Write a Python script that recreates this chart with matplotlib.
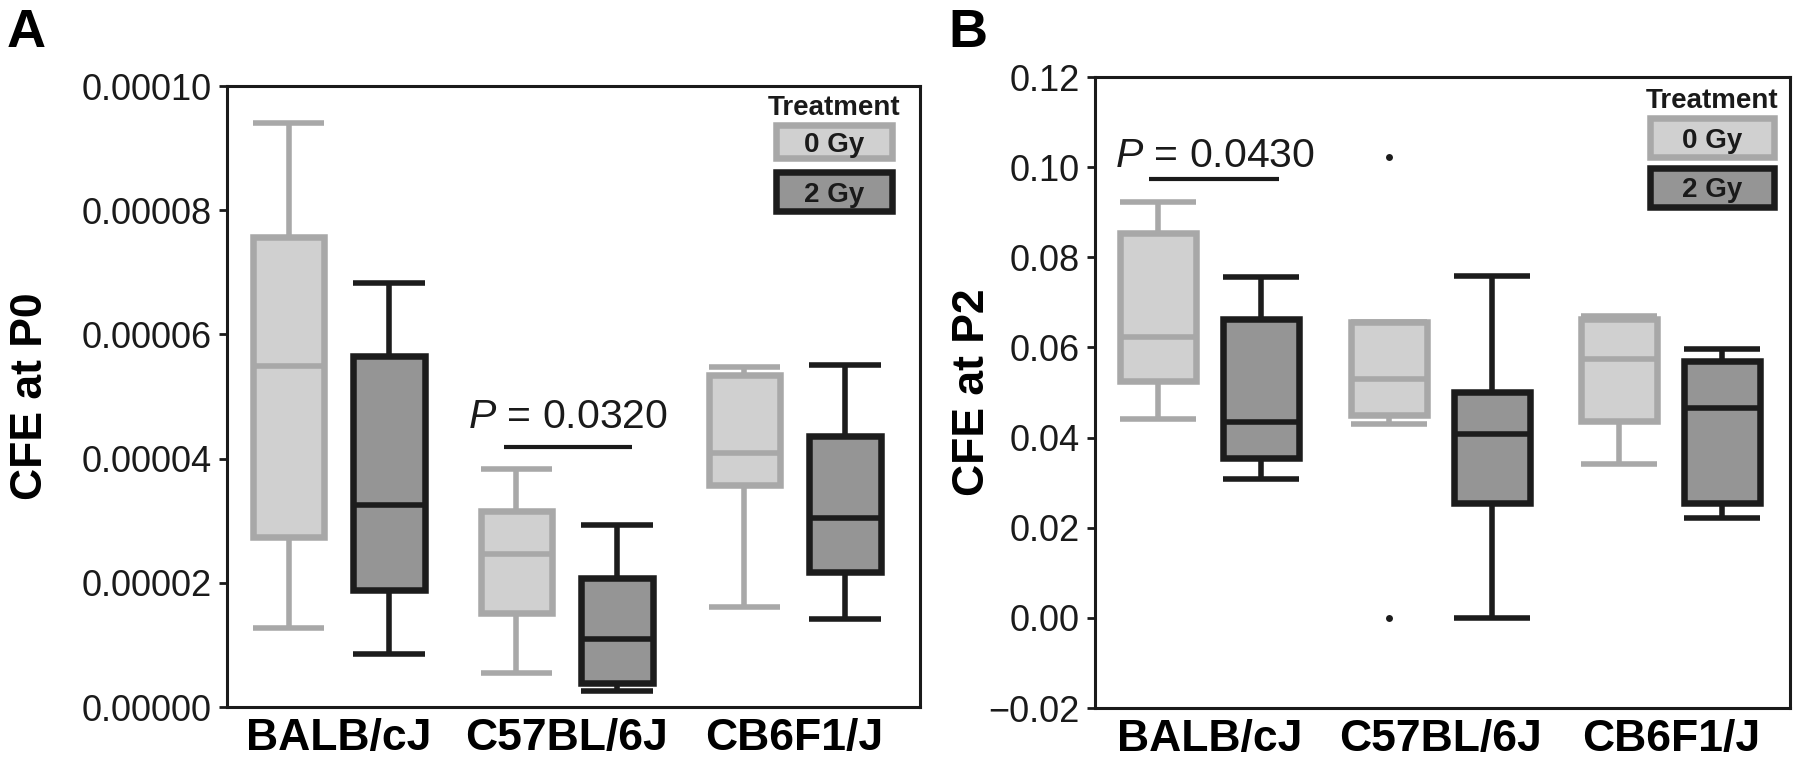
import numpy as np
import matplotlib.pyplot as plt
from matplotlib.patches import Rectangle
from matplotlib.ticker import FuncFormatter

plt.rcParams['font.family'] = ['Liberation Sans', 'DejaVu Sans']
plt.rcParams['mathtext.fontset'] = 'custom'
plt.rcParams['mathtext.it'] = 'Liberation Sans:italic'
plt.rcParams['mathtext.rm'] = 'Liberation Sans'

strains = ['BALB/cJ', 'C57BL/6J', 'CB6F1/J']
treatments = ['0 Gy', '2 Gy']

# five-number summaries per strain: [whisker low, q1, median, q3, whisker high]
p0_0gy = [[1.28e-5, 2.74e-5, 5.49e-5, 7.57e-5, 9.41e-5],
          [0.55e-5, 1.51e-5, 2.46e-5, 3.15e-5, 3.83e-5],
          [1.61e-5, 3.58e-5, 4.09e-5, 5.34e-5, 5.47e-5]]
p0_2gy = [[0.85e-5, 1.89e-5, 3.25e-5, 5.65e-5, 6.83e-5],
          [0.26e-5, 0.39e-5, 1.09e-5, 2.07e-5, 2.93e-5],
          [1.42e-5, 2.17e-5, 3.05e-5, 4.37e-5, 5.51e-5]]
p0_0gy_out = [[], [], []]
p0_2gy_out = [[], [], []]

p2_0gy = [[0.0442, 0.0525, 0.0623, 0.0854, 0.0923],
          [0.0430, 0.0449, 0.0529, 0.0656, 0.0656],
          [0.0341, 0.0436, 0.0575, 0.0664, 0.0670]]
p2_2gy = [[0.0309, 0.0355, 0.0435, 0.0664, 0.0756],
          [0.0000, 0.0254, 0.0407, 0.0501, 0.0759],
          [0.0221, 0.0254, 0.0465, 0.0569, 0.0597]]
p2_0gy_out = [[], [0.1023, 0.0], []]
p2_2gy_out = [[], [], []]

p0_yticks = [0, 2e-5, 4e-5, 6e-5, 8e-5, 1e-4]
p2_yticks = [-0.02, 0.0, 0.02, 0.04, 0.06, 0.08, 0.10, 0.12]

light_face, light_edge = '#d0d0d0', '#a8a8a8'
dark_face, dark_edge = '#959595', '#1c1c1c'
box_lw = 4.7
line_lw = 4.0


def make_stats(rows, outs):
    return [dict(whislo=r[0], q1=r[1], med=r[2], q3=r[3], whishi=r[4], fliers=o)
            for r, o in zip(rows, outs)]


def draw_boxes(ax, rows, outs, pos, face, edge, width):
    ax.bxp(make_stats(rows, outs), positions=pos, widths=width, capwidths=width,
           patch_artist=True, showfliers=True, manage_ticks=False,
           boxprops=dict(facecolor=face, edgecolor=edge, linewidth=box_lw),
           whiskerprops=dict(color=edge, linewidth=line_lw, solid_capstyle='butt'),
           capprops=dict(color=edge, linewidth=line_lw, solid_capstyle='butt'),
           medianprops=dict(color=edge, linewidth=line_lw, solid_capstyle='butt'),
           flierprops=dict(marker='o', markersize=5, markerfacecolor=dark_edge,
                           markeredgecolor='none'))


def draw_legend(ax, xc, w, y_title, rect0, rect1):
    ax.text(xc, y_title, 'Treatment', transform=ax.transAxes, ha='center',
            va='baseline', fontsize=20, fontweight='bold', color='#1a1a1a')
    for (y0, h), face, edge, lab in [(rect0, light_face, light_edge, treatments[0]),
                                    (rect1, dark_face, dark_edge, treatments[1])]:
        ax.add_patch(Rectangle((xc - w / 2, y0), w, h, transform=ax.transAxes,
                               facecolor=face, edgecolor=edge, linewidth=box_lw,
                               joinstyle='miter', clip_on=False, zorder=5))
        ax.text(xc, y0 + h / 2, lab, transform=ax.transAxes, ha='center',
                va='center_baseline', fontsize=20, fontweight='bold',
                color='#1a1a1a', zorder=6)


def style_axes(ax):
    for s in ax.spines.values():
        s.set_linewidth(2.2)
        s.set_color('#1a1a1a')
    ax.tick_params(axis='y', direction='out', length=6, width=2, pad=5,
                   labelsize=26, colors='#1a1a1a')
    ax.tick_params(axis='x', length=0, pad=8, labelsize=32)
    ax.set_xticks(np.arange(len(strains)))
    ax.set_xticklabels(strains, fontweight='bold')


fig = plt.figure(figsize=(18, 7.67), dpi=100)
xs = np.arange(len(strains))

# panel A
ax1 = fig.add_axes([0.1261, 0.0782, 0.3850, 0.8096])
draw_boxes(ax1, p0_0gy, p0_0gy_out, xs - 0.22, light_face, light_edge, 0.315)
draw_boxes(ax1, p0_2gy, p0_2gy_out, xs + 0.22, dark_face, dark_edge, 0.315)
ax1.set_xlim(-0.49, 2.55)
ax1.set_ylim(0, 1e-4)
ax1.set_yticks(p0_yticks)
ax1.yaxis.set_major_formatter(FuncFormatter(lambda v, p: f'{v:.5f}'))
style_axes(ax1)
ax1.set_ylabel('CFE at P0', fontsize=32, fontweight='bold', va='center')
ax1.yaxis.set_label_coords(-0.283, 0.5)
ax1.plot([0.726, 1.287], [4.19e-5, 4.19e-5], color='#1a1a1a', lw=3, solid_capstyle='butt')
ax1.text(1.005, 4.49e-5, '$P$ = 0.0320', ha='center', va='baseline', fontsize=29.5,
         color='#1a1a1a')
draw_legend(ax1, 0.876, 0.167, 0.953, (0.884, 0.053), (0.799, 0.062))

# panel B
ax2 = fig.add_axes([0.6083, 0.0769, 0.3861, 0.8227])
draw_boxes(ax2, p2_0gy, p2_0gy_out, xs - 0.223, light_face, light_edge, 0.33)
draw_boxes(ax2, p2_2gy, p2_2gy_out, xs + 0.223, dark_face, dark_edge, 0.33)
ax2.set_xlim(-0.496, 2.516)
ax2.set_ylim(-0.02, 0.12)
ax2.set_yticks(p2_yticks)
ax2.yaxis.set_major_formatter(FuncFormatter(lambda v, p: f'{v:.2f}'.replace('-', '\u2212')))
style_axes(ax2)
ax2.set_ylabel('CFE at P2', fontsize=32, fontweight='bold', va='center')
ax2.yaxis.set_label_coords(-0.176, 0.5)
ax2.plot([-0.26, 0.30], [0.0974, 0.0974], color='#1a1a1a', lw=3, solid_capstyle='butt')
ax2.text(0.024, 0.100, '$P$ = 0.0430', ha='center', va='baseline', fontsize=29.5,
         color='#1a1a1a')
draw_legend(ax2, 0.888, 0.178, 0.951, (0.873, 0.062), (0.794, 0.062))

fig.text(0.0039, 0.9387, 'A', fontsize=39, fontweight='bold', va='baseline')
fig.text(0.5267, 0.9387, 'B', fontsize=39, fontweight='bold', va='baseline')

fig.savefig('out.png', dpi=100)
